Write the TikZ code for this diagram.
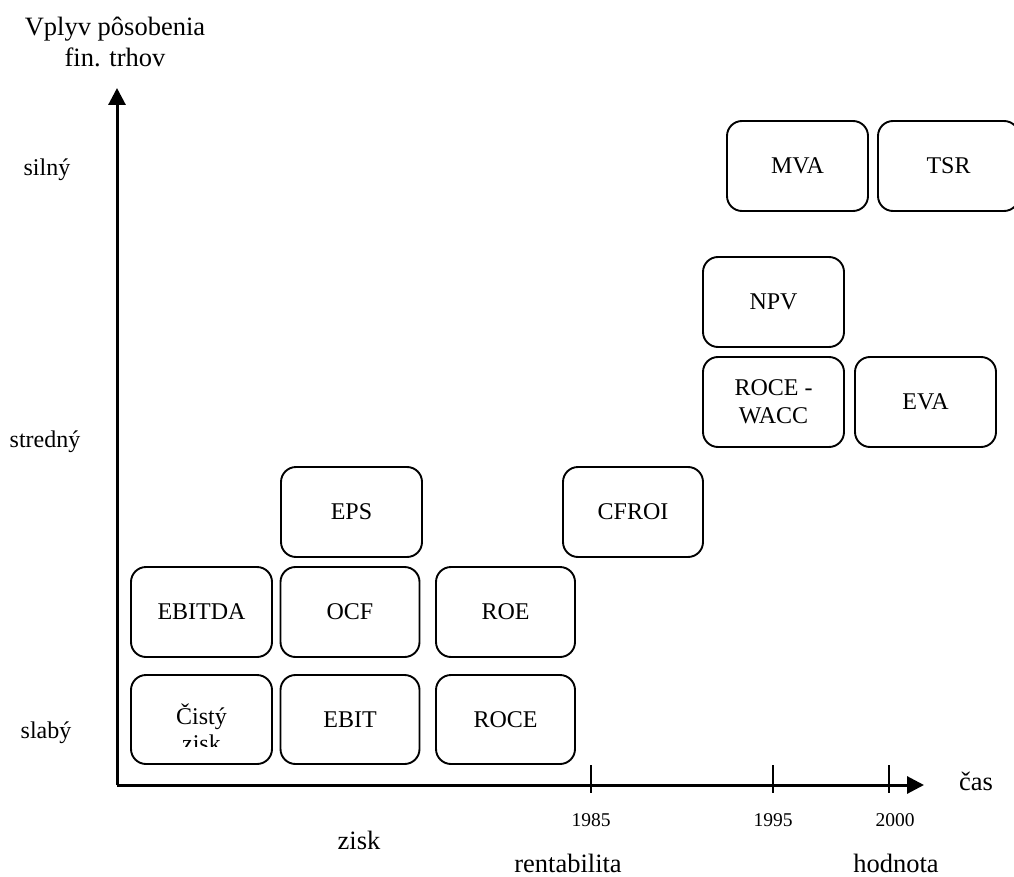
\documentclass[tikz,border=0pt]{standalone}
\usepackage{fontspec}
\setmainfont{Liberation Serif}
\usetikzlibrary{arrows.meta}
\begin{document}
\begin{tikzpicture}[x=1pt,y=-1pt,
  every node/.style={font=\fontsize{24}{28}\selectfont},
  mbox/.style={draw,line width=1.9pt,rounded corners=15pt,minimum width=141pt,minimum height=90pt,inner sep=0pt,align=center},
  yr/.style={font=\fontsize{19.5}{23}\selectfont},
  big/.style={font=\fontsize{26.5}{31}\selectfont},
  ax/.style={line width=3pt,-{Triangle[length=17pt,width=17pt]}},
  tick/.style={line width=2pt}]
\useasboundingbox (0,0) rectangle (1014,877);
% axes
\coordinate (O) at (117,785);
\coordinate (ytop) at (117,88);
\coordinate (xend) at (924,785);
\draw[ax] (O) -- (ytop);
\draw[ax] (O) -- (xend);
% ticks
\foreach \n/\x in {t85/591,t95/773,t00/889}{
  \coordinate (\n a) at (\x,765);
  \coordinate (\n b) at (\x,793);
  \draw[tick] (\n a) -- (\n b);
}
% boxes
\node[mbox] (ebitda) at (201.5,612) {EBITDA};
\node[mbox,minimum width=139pt] (ocf) at (350,612) {OCF};
\node[mbox,minimum height=89pt] (cisty) at (201.5,719.5) {};
\begin{scope}
  \clip (131,675) rectangle (272,746);
  \node[align=center,font=\fontsize{24}{27}\selectfont] (cistytext) at (201.5,728) {Čistý\\zisk};
\end{scope}
\node[mbox,minimum width=139pt,minimum height=89pt] (ebit) at (350,719.5) {EBIT};
\node[mbox,minimum width=139pt,minimum height=89pt] (roce) at (505.5,719.5) {ROCE};
\node[mbox,minimum width=139pt] (roe) at (505.5,612) {ROE};
\node[mbox] (eps) at (351.5,512) {EPS};
\node[mbox,minimum width=140pt] (cfroi) at (633,512) {CFROI};
\node[mbox] (rw) at (773.5,402) {ROCE -\\WACC};
\node[mbox] (eva) at (925.5,402) {EVA};
\node[mbox] (npv) at (773.5,302) {NPV};
\node[mbox] (mva) at (797.5,166) {MVA};
\node[mbox] (tsr) at (948.5,166) {TSR};
% axis labels
\node[big,align=center] (ytitle) at (115,42) {Vplyv pôsobenia\\fin. trhov};
\node (silny) at (47,170) {silný};
\node (stredny) at (45,442) {stredný};
\node (slaby) at (46,733) {slabý};
\node[big] (cas) at (976,781) {čas};
\node[yr] (y85) at (591,820) {1985};
\node[yr] (y95) at (773,820) {1995};
\node[yr] (y00) at (895,820) {2000};
\node[big] (zisk) at (359,840) {zisk};
\node[big] (rent) at (568,863) {rentabilita};
\node[big] (hod) at (896,863) {hodnota};
\end{tikzpicture}
\end{document}
